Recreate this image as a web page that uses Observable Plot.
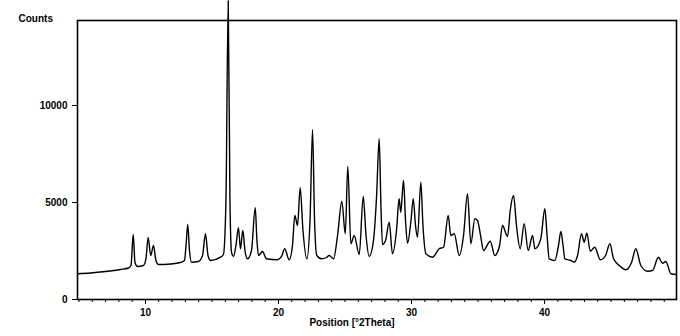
<!DOCTYPE html>
<html>
<head>
<meta charset="utf-8">
<script src="https://cdn.jsdelivr.net/npm/d3@7"></script>
<script src="https://cdn.jsdelivr.net/npm/@observablehq/plot@0.6"></script>
<style>
  html, body { margin: 0; padding: 0; background: #fff; }
  #chart svg { display: block; }
</style>
</head>
<body>
<div id="chart"></div>
<script>
// Diffraction pattern: position (°2Theta) and counts
const twoTheta = [
  4.89, 5.86, 6.99, 8.12, 8.72, 8.91, 9.08, 9.21, 9.40, 9.85,
  10.04, 10.20, 10.40, 10.60, 10.79, 10.98, 11.88, 12.63, 12.93, 13.05,
  13.18, 13.31, 13.46, 13.98, 14.29, 14.51, 14.70, 14.89, 15.64, 15.86,
  16.05, 16.22, 16.35, 16.47, 16.62, 16.80, 16.99, 17.14, 17.32, 17.48,
  17.67, 17.97, 18.25, 18.38, 18.50, 18.80, 19.10, 19.92, 20.23, 20.47,
  20.80, 21.05, 21.23, 21.43, 21.63, 21.84, 22.13, 22.37, 22.56, 22.71,
  22.88, 23.23, 23.61, 23.81, 24.14, 24.44, 24.76, 25.02, 25.21, 25.44,
  25.69, 26.07, 26.37, 26.58, 26.82, 27.14, 27.37, 27.57, 27.71, 27.82,
  28.05, 28.32, 28.57, 28.87, 29.07, 29.19, 29.40, 29.55, 29.70, 29.96,
  30.13, 30.30, 30.45, 30.70, 30.86, 31.08, 31.58, 32.08, 32.41, 32.76,
  32.95, 33.21, 33.59, 33.91, 34.21, 34.46, 34.76, 34.96, 35.19, 35.41,
  35.92, 36.26, 36.62, 36.84, 37.22, 37.42, 37.67, 37.89, 38.17, 38.47,
  38.77, 39.10, 39.27, 39.72, 40.02, 40.19, 40.35, 40.77, 41.05, 41.23,
  41.39, 41.53, 41.98, 42.23, 42.48, 42.78, 42.98, 43.18, 43.44, 43.78,
  44.19, 44.59, 44.91, 45.19, 45.62, 46.11, 46.54, 46.86, 47.24, 47.74,
  48.12, 48.56, 48.87, 49.12, 49.50, 49.92
];
const counts = [
  1325, 1366, 1443, 1547, 1624, 1753, 3351, 1907, 1701, 1753,
  2114, 3196, 2268, 2784, 2010, 1804, 1830, 1907, 2010, 2784,
  3866, 2526, 1923, 1959, 2268, 3387, 2268, 2010, 2181, 2320,
  5103, 15400, 5103, 2423, 2217, 2784, 3696, 2614, 3557, 2526,
  2098, 2526, 4727, 3041, 2268, 2474, 2098, 2046, 2217, 2614,
  2046, 2784, 4330, 3815, 5758, 3557, 2098, 4072, 8748, 4072,
  2268, 2098, 2165, 2268, 2098, 3299, 5067, 3387, 6856, 2871,
  3299, 2320, 5310, 3299, 2217, 3041, 5274, 8284, 4588, 2835,
  3041, 3985, 2356, 3557, 5190, 4500, 6134, 4072, 2902, 4072,
  5190, 3815, 3212, 6047, 3815, 2356, 2181, 2614, 2696, 4330,
  3299, 3387, 2268, 3299, 5449, 2871, 4160, 4072, 3299, 2526,
  3006, 2268, 2784, 3815, 3248, 4588, 5361, 3815, 2614, 3902,
  2526, 3299, 2614, 3129, 4675, 3299, 2098, 2010, 2784, 3505,
  2784, 2098, 2010, 1923, 2268, 3387, 2954, 3418, 2490, 2696,
  2046, 2268, 2871, 2098, 1753, 1531, 1907, 2614, 1753, 1459,
  1495, 2181, 1871, 1959, 1325, 1289
];
const yTicks = [0, 5000, 10000];
const xMajorTicks = [10, 20, 30, 40];
const xMinorTicks = d3.range(5, 50);
const yTitle = "Counts";
const xTitle = "Position [°2Theta]";

const data = twoTheta.map((t, i) => ({t, c: counts[i]}));

const chart = Plot.plot({
  width: 680,
  height: 336,
  marginLeft: 77,
  marginRight: 4,
  marginTop: 20,
  marginBottom: 37,
  style: {fontFamily: "'Liberation Sans', Arial, sans-serif", fontSize: "10px", color: "#000", background: "#fff"},
  x: {domain: [4.89, 49.92]},
  y: {domain: [0, 14382]},
  marks: [
    Plot.line(data, {x: "t", y: "c", stroke: "#000", strokeWidth: 1.4, strokeLinejoin: "round", curve: "monotone-x"}),
    Plot.frame({stroke: "#000", strokeWidth: 1.6}),
    Plot.axisX({ticks: xMinorTicks, tickSize: 3, tickFormat: () => "", label: null}),
    Plot.axisX({ticks: xMajorTicks, tickSize: 5, tickPadding: 4, tickFormat: d => String(d), label: null, fontWeight: "bold"}),
    Plot.axisY({ticks: yTicks, tickSize: 5, tickPadding: 5, tickFormat: d => String(d), label: null, fontWeight: "bold"}),
    Plot.text([yTitle], {frameAnchor: "top-left", dx: -59, dy: -6, textAnchor: "start", fontSize: 10, fontWeight: "bold"}),
    Plot.text([xTitle], {frameAnchor: "bottom", dx: -25, dy: 26, fontSize: 10, fontWeight: "bold"})
  ]
});
document.getElementById("chart").appendChild(chart);
</script>
</body>
</html>
